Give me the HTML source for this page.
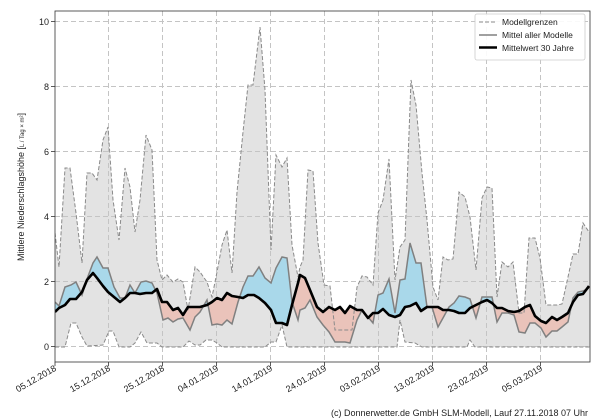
<!DOCTYPE html>
<html><head><meta charset="utf-8"><style>
body{margin:0;background:#fff;}
svg{display:block;font-family:"Liberation Sans","DejaVu Sans",sans-serif;}
</style></head><body>
<svg width="600" height="420" viewBox="0 0 600 420">
<defs>
<clipPath id="plot"><rect x="55" y="11" width="535" height="351"/></clipPath>
<clipPath id="aboveBlack"><polygon id="ab" points="0,0 600,0 589,286 583,294 578,295 573,302 568,313 562,317 557,320 552,317 546,323 541,321 535,316 530,305 525,307 519,311 514,312 508,311 502,308 497,308 492,303 487,300 482,302 476,305 470,308 465,313 459,313 454,311 449,310 443,310 438,307 432,307 427,307 421,311 416,303 410,306 405,307 400,315 395,317 389,315 383,309 378,313 373,313 368,318 362,310 357,310 350,306 345,313 340,307 335,310 329,307 323,312 317,307 310,290 305,278 300,275 298,283 292,305 287,325 282,323 276,323 271,310 265,303 259,298 254,295 248,295 243,298 238,297 232,296 227,293 222,300 217,298 212,302 207,305 200,307 193,307 188,307 183,315 178,308 173,310 167,302 162,302 157,289 152,293 146,293 140,294 135,293 130,293 125,298 120,302 114,297 108,292 103,286 97,278 93,273 87,280 82,292 76,299 70,299 65,305 59,308 55,312"/></clipPath>
<clipPath id="belowBlack"><polygon points="55,312 59,308 65,305 70,299 76,299 82,292 87,280 93,273 97,278 103,286 108,292 114,297 120,302 125,298 130,293 135,293 140,294 146,293 152,293 157,289 162,302 167,302 173,310 178,308 183,315 188,307 193,307 200,307 207,305 212,302 217,298 222,300 227,293 232,296 238,297 243,298 248,295 254,295 259,298 265,303 271,310 276,323 282,323 287,325 292,305 298,283 300,275 305,278 310,290 317,307 323,312 329,307 335,310 340,307 345,313 350,306 357,310 362,310 368,318 373,313 378,313 383,309 389,315 395,317 400,315 405,307 410,306 416,303 421,311 427,307 432,307 438,307 443,310 449,310 454,311 459,313 465,313 470,308 476,305 482,302 487,300 492,303 497,308 502,308 508,311 514,312 519,311 525,307 530,305 535,316 541,321 546,323 552,317 557,320 562,317 568,313 573,302 578,295 583,294 589,286 600,286 600,420 0,420 0,312"/></clipPath>
<clipPath id="belowModel"><polygon points="55,302 59,306 65,287 71,285 76,282 82,295 87,279 93,263 97,257 103,268 108,268 114,287 120,298 125,298 130,285 135,293 141,282 146,281 152,283 157,293 163,320 168,318 173,322 178,319 183,318 190,330 195,317 200,312 207,300 212,325 217,324 222,325 227,320 232,324 238,302 243,287 248,276 253,276 259,267 265,278 271,283 276,268 282,257 287,258 292,302 298,320 300,310 305,308 310,300 317,317 323,325 329,332 335,342 340,342 345,342 350,343 357,320 362,310 368,317 373,323 378,295 383,293 389,279 395,313 400,280 405,279 410,243 416,263 421,263 427,307 432,307 438,327 443,318 449,307 454,303 459,296 465,297 470,299 476,318 482,297 487,297 492,297 497,322 502,313 508,313 514,315 519,332 525,333 530,323 535,323 541,328 546,337 552,331 557,331 562,327 568,322 573,298 578,292 583,291 589,288 600,288 600,420 0,420 0,302"/></clipPath>
<clipPath id="aboveModel"><polygon points="0,0 600,0 600,288 589,288 583,291 578,292 573,298 568,322 562,327 557,331 552,331 546,337 541,328 535,323 530,323 525,333 519,332 514,315 508,313 502,313 497,322 492,297 487,297 482,297 476,318 470,299 465,297 459,296 454,303 449,307 443,318 438,327 432,307 427,307 421,263 416,263 410,243 405,279 400,280 395,313 389,279 383,293 378,295 373,323 368,317 362,310 357,320 350,343 345,342 340,342 335,342 329,332 323,325 317,317 310,300 305,308 300,310 298,320 292,302 287,258 282,257 276,268 271,283 265,278 259,267 253,276 248,276 243,287 238,302 232,324 227,320 222,325 217,324 212,325 207,300 200,312 195,317 190,330 183,318 178,319 173,322 168,318 163,320 157,293 152,283 146,281 141,282 135,293 130,285 125,298 120,298 114,287 108,268 103,268 97,257 93,263 87,279 82,295 76,282 71,285 65,287 59,306 55,302 0,302"/></clipPath>
</defs>
<g clip-path="url(#plot)">
<!-- envelope -->
<polygon fill="#e3e3e3" points="55,233 59,267 65,168 70,168 76,213 82,263 87,173 92,173 97,180 103,140 108,127 113,200 119,240 125,168 130,187 135,232 140,200 146,135 152,150 157,260 162,280 167,275 173,282 178,279 183,282 188,310 195,267 200,272 207,282 212,297 217,272 222,245 227,230 232,273 237,192 243,132 248,85 253,85 260,27 265,90 271,250 276,155 282,167 287,158 292,245 298,277 300,267 303,260 308,170 313,171 318,243 324,285 330,286 335,330 352,330 357,287 362,276 367,277 373,285 378,213 383,200 389,159 395,280 400,247 405,240 411,80 416,105 422,173 427,220 433,287 438,300 443,257 448,260 453,259 459,192 465,197 470,217 476,270 482,198 487,187 492,188 497,297 502,262 508,267 513,262 519,313 524,313 529,238 535,238 540,258 546,305 552,305 557,305 562,304 568,277 573,254 578,254 583,223 589,232 590,232 590,347 475,347 470,340 467,347 422,347 415,343 405,342 400,320 397,347 287,347 282,325 276,342 271,342 265,347 222,347 217,343 212,340 206,340 200,345 195,345 189,341 183,347 162,347 157,343 147,343 141,332 135,343 130,347 119,347 113,331 109,331 103,345 87,346 82,337 76,323 71,323 65,347 55,347"/>
<!-- grid -->
<g stroke="#c4c4c4" stroke-width="1" stroke-dasharray="5,3">
<line x1="55" y1="21.5" x2="590" y2="21.5"/><line x1="55" y1="86.5" x2="590" y2="86.5"/><line x1="55" y1="151.5" x2="590" y2="151.5"/><line x1="55" y1="216.5" x2="590" y2="216.5"/><line x1="55" y1="281.5" x2="590" y2="281.5"/><line x1="55" y1="346.5" x2="590" y2="346.5"/>
<line x1="108.5" y1="11" x2="108.5" y2="362"/><line x1="162.5" y1="11" x2="162.5" y2="362"/><line x1="216.5" y1="11" x2="216.5" y2="362"/><line x1="270.5" y1="11" x2="270.5" y2="362"/><line x1="324.5" y1="11" x2="324.5" y2="362"/><line x1="378.5" y1="11" x2="378.5" y2="362"/><line x1="432.5" y1="11" x2="432.5" y2="362"/><line x1="486.5" y1="11" x2="486.5" y2="362"/><line x1="540.5" y1="11" x2="540.5" y2="362"/>
</g>
<!-- fills -->
<g clip-path="url(#aboveBlack)"><rect x="0" y="0" width="600" height="420" fill="#a9d8ea" clip-path="url(#belowModel)"/></g>
<g clip-path="url(#belowBlack)"><rect x="0" y="0" width="600" height="420" fill="#eac3ba" clip-path="url(#aboveModel)"/></g>
<!-- envelope borders -->
<polyline fill="none" stroke="#8a8a8a" stroke-width="1" stroke-dasharray="4,2" points="55,233 59,267 65,168 70,168 76,213 82,263 87,173 92,173 97,180 103,140 108,127 113,200 119,240 125,168 130,187 135,232 140,200 146,135 152,150 157,260 162,280 167,275 173,282 178,279 183,282 188,310 195,267 200,272 207,282 212,297 217,272 222,245 227,230 232,273 237,192 243,132 248,85 253,85 260,27 265,90 271,250 276,155 282,167 287,158 292,245 298,277 300,267 303,260 308,170 313,171 318,243 324,285 330,286 335,330 352,330 357,287 362,276 367,277 373,285 378,213 383,200 389,159 395,280 400,247 405,240 411,80 416,105 422,173 427,220 433,287 438,300 443,257 448,260 453,259 459,192 465,197 470,217 476,270 482,198 487,187 492,188 497,297 502,262 508,267 513,262 519,313 524,313 529,238 535,238 540,258 546,305 552,305 557,305 562,304 568,277 573,254 578,254 583,223 589,232 590,232"/>
<polyline fill="none" stroke="#8a8a8a" stroke-width="1" stroke-dasharray="4,2" points="55,347 65,347 71,323 76,323 82,337 87,346 103,345 109,331 113,331 119,347 130,347 135,343 141,332 147,343 157,343 162,347 183,347 189,341 195,345 200,345 206,340 212,340 217,343 222,347 265,347 271,342 276,342 282,325 287,347 397,347 400,320 405,342 415,343 422,347 467,347 470,340 475,347 590,347"/>
<!-- model mean -->
<polyline fill="none" stroke="#808080" stroke-width="1.5" points="55,302 59,306 65,287 71,285 76,282 82,295 87,279 93,263 97,257 103,268 108,268 114,287 120,298 125,298 130,285 135,293 141,282 146,281 152,283 157,293 163,320 168,318 173,322 178,319 183,318 190,330 195,317 200,312 207,300 212,325 217,324 222,325 227,320 232,324 238,302 243,287 248,276 253,276 259,267 265,278 271,283 276,268 282,257 287,258 292,302 298,320 300,310 305,308 310,300 317,317 323,325 329,332 335,342 340,342 345,342 350,343 357,320 362,310 368,317 373,323 378,295 383,293 389,279 395,313 400,280 405,279 410,243 416,263 421,263 427,307 432,307 438,327 443,318 449,307 454,303 459,296 465,297 470,299 476,318 482,297 487,297 492,297 497,322 502,313 508,313 514,315 519,332 525,333 530,323 535,323 541,328 546,337 552,331 557,331 562,327 568,322 573,298 578,292 583,291 589,288"/>
<!-- 30y mean -->
<polyline fill="none" stroke="#000" stroke-width="2.6" stroke-linejoin="round" points="55,312 59,308 65,305 70,299 76,299 82,292 87,280 93,273 97,278 103,286 108,292 114,297 120,302 125,298 130,293 135,293 140,294 146,293 152,293 157,289 162,302 167,302 173,310 178,308 183,315 188,307 193,307 200,307 207,305 212,302 217,298 222,300 227,293 232,296 238,297 243,298 248,295 254,295 259,298 265,303 271,310 276,323 282,323 287,325 292,305 298,283 300,275 305,278 310,290 317,307 323,312 329,307 335,310 340,307 345,313 350,306 357,310 362,310 368,318 373,313 378,313 383,309 389,315 395,317 400,315 405,307 410,306 416,303 421,311 427,307 432,307 438,307 443,310 449,310 454,311 459,313 465,313 470,308 476,305 482,302 487,300 492,303 497,308 502,308 508,311 514,312 519,311 525,307 530,305 535,316 541,321 546,323 552,317 557,320 562,317 568,313 573,302 578,295 583,294 589,286"/>
</g>
<!-- frame -->
<rect x="55" y="11" width="535" height="351" fill="none" stroke="#333" stroke-width="0.8"/>
<!-- y ticks -->
<g font-size="9" fill="#222" text-anchor="end">
<text x="49" y="25">10</text><text x="49" y="90">8</text><text x="49" y="155">6</text><text x="49" y="220">4</text><text x="49" y="285">2</text><text x="49" y="350">0</text>
</g>
<g stroke="#333" stroke-width="0.8">
<line x1="51" y1="21.5" x2="55" y2="21.5"/><line x1="51" y1="86.5" x2="55" y2="86.5"/><line x1="51" y1="151.5" x2="55" y2="151.5"/><line x1="51" y1="216.5" x2="55" y2="216.5"/><line x1="51" y1="281.5" x2="55" y2="281.5"/><line x1="51" y1="346.5" x2="55" y2="346.5"/>
<line x1="55" y1="362" x2="55" y2="366"/><line x1="108.5" y1="362" x2="108.5" y2="366"/><line x1="162.5" y1="362" x2="162.5" y2="366"/><line x1="216.5" y1="362" x2="216.5" y2="366"/><line x1="270.5" y1="362" x2="270.5" y2="366"/><line x1="324.5" y1="362" x2="324.5" y2="366"/><line x1="378.5" y1="362" x2="378.5" y2="366"/><line x1="432.5" y1="362" x2="432.5" y2="366"/><line x1="486.5" y1="362" x2="486.5" y2="366"/><line x1="540.5" y1="362" x2="540.5" y2="366"/>
</g>
<text x="24" y="187" font-size="9" fill="#222" text-anchor="middle" transform="rotate(-90 24 187)">Mittlere Niederschlagshöhe [<tspan font-size="6">L / Tag × m²</tspan>]</text>
<!-- x labels -->
<g font-size="9" fill="#222" text-anchor="end">
<text transform="translate(57,370) rotate(-30)">05.12.2018</text>
<text transform="translate(111,370) rotate(-30)">15.12.2018</text>
<text transform="translate(165,370) rotate(-30)">25.12.2018</text>
<text transform="translate(219,370) rotate(-30)">04.01.2019</text>
<text transform="translate(273,370) rotate(-30)">14.01.2019</text>
<text transform="translate(327,370) rotate(-30)">24.01.2019</text>
<text transform="translate(381,370) rotate(-30)">03.02.2019</text>
<text transform="translate(435,370) rotate(-30)">13.02.2019</text>
<text transform="translate(489,370) rotate(-30)">23.02.2019</text>
<text transform="translate(543,370) rotate(-30)">05.03.2019</text>
</g>
<!-- legend -->
<rect x="475" y="14" width="110" height="46" fill="#fff" fill-opacity="0.9" stroke="#ccc" stroke-width="0.8" rx="2"/>
<line x1="479" y1="22" x2="497" y2="22" stroke="#8a8a8a" stroke-dasharray="4,2"/>
<line x1="479" y1="35" x2="497" y2="35" stroke="#808080" stroke-width="1.5"/>
<line x1="479" y1="47.5" x2="497" y2="47.5" stroke="#000" stroke-width="2.6"/>
<g font-size="8.5" fill="#222"><text x="502" y="25">Modellgrenzen</text><text x="502" y="38">Mittel aller Modelle</text><text x="502" y="51">Mittelwert 30 Jahre</text></g>
<text x="588" y="416" font-size="9" fill="#222" text-anchor="end">(c) Donnerwetter.de GmbH SLM-Modell, Lauf 27.11.2018 07 Uhr</text>
</svg>
</body></html>
